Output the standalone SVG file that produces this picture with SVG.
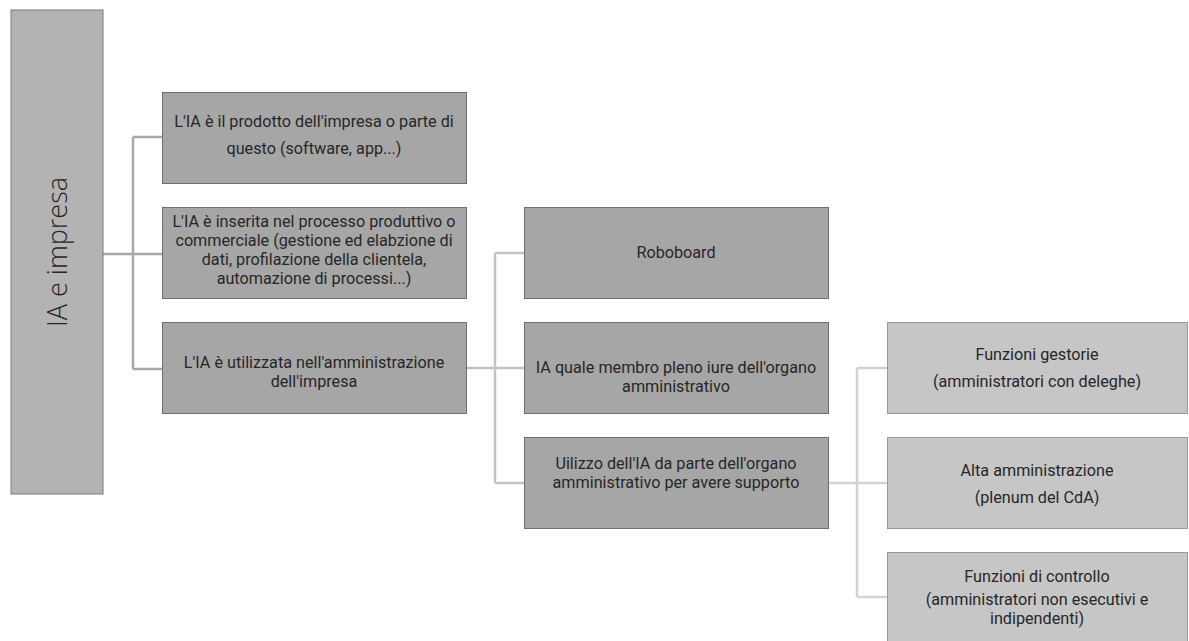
<svg xmlns="http://www.w3.org/2000/svg" width="1189" height="641" viewBox="0 0 1189 641">
<style>
.t{font-family:Roboto,"Open Sans","Liberation Sans",sans-serif;font-size:16.2px;fill:#262626;text-anchor:middle}
.r{font-family:"Open Sans","Noto Sans","Liberation Sans",sans-serif;font-size:27px;font-weight:300;fill:#262626;text-anchor:middle}
.root{fill:#b3b3b3;stroke:#7a7a7a;stroke-width:1}
.l1{fill:#a6a6a6;stroke:#6f6f6f;stroke-width:1}
.l3{fill:#c6c6c6;stroke:#9a9a9a;stroke-width:1}
.c1{fill:none;stroke:#a9a9a9;stroke-width:2.5}
.c2{fill:none;stroke:#c3c3c3;stroke-width:2.5}
.c3{fill:none;stroke:#d3d3d3;stroke-width:2.5}
</style>
<rect width="1189" height="641" fill="#ffffff"/>
<g id="connectors">
<path class="c1" d="M103 254H163M133 137V369M133 137H163M133 369H163"/>
<path class="c2" d="M466 368H524M495 253V483M495 253H524M495 483H524"/>
<path class="c3" d="M828 483H887M857 368V597M857 368H887M857 597H887"/>
</g>
<g id="root">
<rect class="root" x="11" y="10" width="92" height="484"/>
<text class="r" transform="translate(67,252) rotate(-90)">IA e impresa</text>
</g>
<g id="n1">
<rect class="l1" x="162.5" y="92.5" width="304" height="91"/>
<text class="t" x="314" y="127">L'IA è il prodotto dell'impresa o parte di</text>
<text class="t" x="314" y="154">questo (software, app...)</text>
</g>
<g id="n2">
<rect class="l1" x="162.5" y="207.5" width="304" height="91"/>
<text class="t" x="314" y="227">L'IA è inserita nel processo produttivo o</text>
<text class="t" x="314" y="246">commerciale (gestione ed elabzione di</text>
<text class="t" x="314" y="265">dati, profilazione della clientela,</text>
<text class="t" x="314" y="284">automazione di processi...)</text>
</g>
<g id="n3">
<rect class="l1" x="162.5" y="322.5" width="304" height="91"/>
<text class="t" x="314" y="368">L'IA è utilizzata nell'amministrazione</text>
<text class="t" x="314" y="387">dell'impresa</text>
</g>
<g id="n4">
<rect class="l1" x="524.5" y="207.5" width="304" height="91"/>
<text class="t" x="676" y="258">Roboboard</text>
</g>
<g id="n5">
<rect class="l1" x="524.5" y="322.5" width="304" height="91"/>
<text class="t" x="676" y="373">IA quale membro pleno iure dell'organo</text>
<text class="t" x="676" y="392">amministrativo</text>
</g>
<g id="n6">
<rect class="l1" x="524.5" y="437.5" width="304" height="91"/>
<text class="t" x="676" y="469">Uilizzo dell'IA da parte dell'organo</text>
<text class="t" x="676" y="488">amministrativo per avere supporto</text>
</g>
<g id="n7">
<rect class="l3" x="887.5" y="322.5" width="300" height="91"/>
<text class="t" x="1037" y="360">Funzioni gestorie</text>
<text class="t" x="1037" y="387">(amministratori con deleghe)</text>
</g>
<g id="n8">
<rect class="l3" x="887.5" y="437.5" width="300" height="91"/>
<text class="t" x="1037" y="476">Alta amministrazione</text>
<text class="t" x="1037" y="503">(plenum del CdA)</text>
</g>
<g id="n9">
<rect class="l3" x="887.5" y="552.5" width="300" height="91"/>
<text class="t" x="1037" y="582">Funzioni di controllo</text>
<text class="t" x="1037" y="605">(amministratori non esecutivi e</text>
<text class="t" x="1037" y="624">indipendenti)</text>
</g>
</svg>
